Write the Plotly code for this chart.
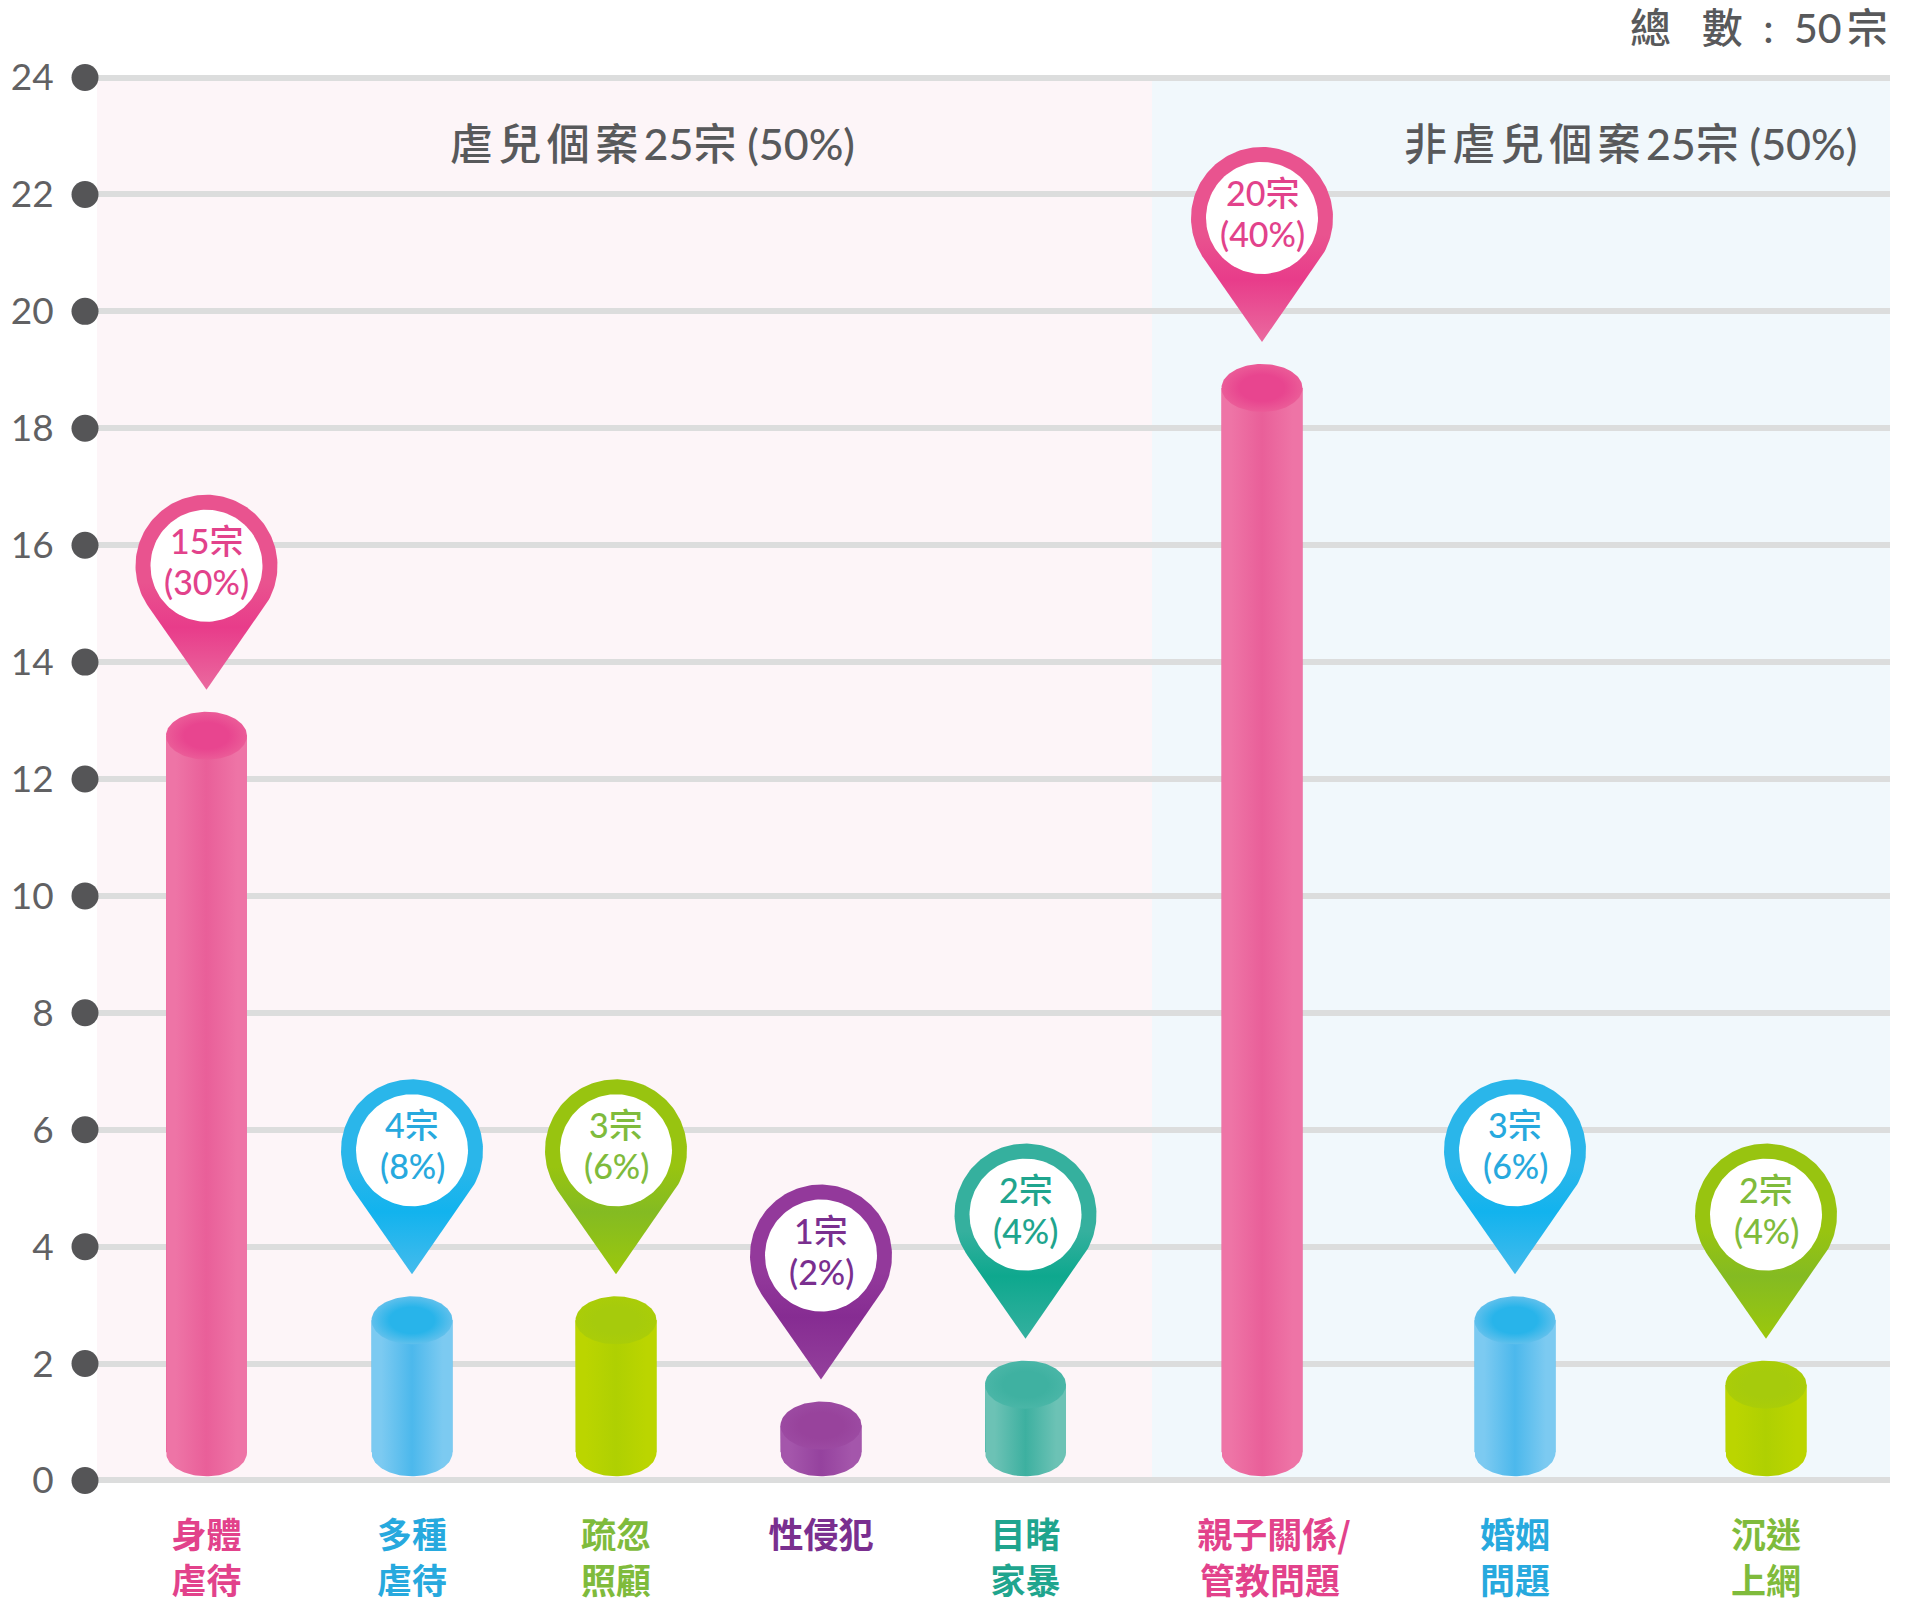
import numpy as np
import plotly.graph_objects as go

# ---- data ----
categories = [["身體", "虐待"], ["多種", "虐待"], ["疏忽", "照顧"], ["性侵犯", ""], ["目睹", "家暴"],
              ["親子關係/", "管教問題"], ["婚姻", "問題"], ["沉迷", "上網"]]
bar_heights = [13.15, 3.15, 3.15, 1.35, 2.05, 19.1, 3.15, 2.05]
case_counts = [15, 4, 3, 1, 2, 20, 3, 2]
case_pct = [30, 8, 6, 2, 4, 40, 6, 4]
y_ticks = list(range(0, 25, 2))
group_titles = ["虐\u2009兒\u2009個\u2009案\u200925宗 (50%)", "非\u2009虐\u2009兒\u2009個\u2009案\u200925宗 (50%)"]
total_label = "總\u2002\u2005數\u2002:\u200250\u2009宗"

# ---- layout / style ----
W, H = 1905, 1606
PX_PER_UNIT = 58.45
X0, X1 = 97, 1890
PAD = 0.3
TOP = 77.5
x_pos = [206.5, 412, 616, 821, 1025.5, 1262, 1515, 1766]
tick_pos = [206.5, 412, 616, 821, 1025.5, 1274, 1515, 1766]
SPLIT = 1152
BAR_W = 81
CAP = 24 / PX_PER_UNIT
FOOT = 0.07

PINK = dict(pin="#e9538f", deep="#e83c8a", tip="#ea6a9f", edge="#ee74a6", mid="#e95f99", cap="#e8458f", capedge="#eb5c98", label="#e2428b")
BLUE = dict(pin="#2ab6ea", deep="#12b3ee", tip="#45bbec", edge="#7ccaf1", mid="#4cb8ec", cap="#28b4ea", capedge="#60c0ec", label="#27a9de")
LIME = dict(pin="#98c410", deep="#84bb22", tip="#9cc80c", edge="#bbd500", mid="#afd002", cap="#a6cb0c", capedge="#aacd08", label="#7fbb3c")
PURP = dict(pin="#93399b", deep="#862c92", tip="#94409c", edge="#a456ab", mid="#95429e", cap="#98439c", capedge="#9c4aa2", label="#7a2f8f")
TEAL = dict(pin="#35b09e", deep="#0ea88e", tip="#34b09f", edge="#6cc2b5", mid="#3db0a0", cap="#3fb1a1", capedge="#4ab6a7", label="#1fa58e")
styles = [PINK, BLUE, LIME, PURP, TEAL, PINK, BLUE, LIME]

FONT = "Lato, 'Noto Sans CJK TC', sans-serif"
CJK = "'Noto Sans CJK TC', sans-serif"
GREY = "#58595b"

fig = go.Figure()

# cylinder bodies
bases = [CAP + FOOT] * len(bar_heights)
fig.add_trace(go.Bar(x=x_pos, y=[h - CAP - b for h, b in zip(bar_heights, bases)], base=bases, width=BAR_W,
                     marker=dict(color=[s["mid"] for s in styles], line_width=0),
                     hoverinfo="skip", showlegend=False))

t = np.linspace(0, 2 * np.pi, 121)
for x, h, b, s in zip(x_pos, bar_heights, bases, styles):
    top_c = h - CAP
    r = BAR_W / 2
    a = np.linspace(np.pi, 2 * np.pi, 61)
    bx = np.r_[x - r, x + r * np.cos(a), x + r]
    by = np.r_[top_c, b + CAP * np.sin(a), top_c]
    grad = dict(type="horizontal",
                colorscale=[[0, s["edge"]], [0.12, s["edge"]], [0.5, s["mid"]], [0.88, s["edge"]], [1, s["edge"]]])
    fig.add_trace(go.Scatter(x=bx, y=by, mode="lines", line_width=0, fill="toself", fillgradient=grad,
                             hoverinfo="skip", showlegend=False))
    cx = x + r * np.cos(t)
    cy = top_c + CAP * np.sin(t)
    fig.add_trace(go.Scatter(x=cx, y=cy, mode="lines", line_width=0, fill="toself",
                             fillgradient=dict(type="radial", colorscale=[[0, s["cap"]], [0.55, s["cap"]], [1, s["capedge"]]]),
                             hoverinfo="skip", showlegend=False))

# pins
TIP_GAP, TIP_D, R_OUT, R_IN = 22, 124, 71, 56
ang = np.arccos(R_OUT / TIP_D)
pin_centers = []
for x, h, s in zip(x_pos, bar_heights, styles):
    tip = h + TIP_GAP / PX_PER_UNIT
    cen = tip + TIP_D / PX_PER_UNIT
    pin_centers.append(cen)
    a = np.linspace(-np.pi / 2 + ang, 3 * np.pi / 2 - ang, 120)
    px = np.r_[x, x + R_OUT * np.cos(a), x]
    py = np.r_[tip, cen + R_OUT * np.sin(a) / PX_PER_UNIT, tip]
    fig.add_trace(go.Scatter(x=px, y=py, mode="lines", line_width=0, fill="toself",
                             fillgradient=dict(type="vertical",
                                               colorscale=[[0, s["tip"]], [0.32, s["deep"]], [0.55, s["pin"]], [1, s["pin"]]]),
                             hoverinfo="skip", showlegend=False))
    fig.add_trace(go.Scatter(x=x + R_IN * np.cos(t), y=cen + R_IN * np.sin(t) / PX_PER_UNIT,
                             mode="lines", line_width=0, fill="toself", fillcolor="#ffffff",
                             hoverinfo="skip", showlegend=False))

# pin labels
annotations = []
for x, c, n, p, s in zip(x_pos, pin_centers, case_counts, case_pct, styles):
    f = dict(family=FONT, size=34, color=s["label"], weight=500)
    annotations.append(dict(x=x, y=c, xref="x", yref="y", yshift=25.5, showarrow=False, text=f"{n}宗", font=f))
    annotations.append(dict(x=x, y=c, xref="x", yref="y", yshift=-15.5, showarrow=False, text=f"({p}%)", font=f))
# heading texts
hf = dict(family=FONT, size=43, color=GREY, weight=500)
annotations.append(dict(x=652, y=(1480 - 143) / PX_PER_UNIT, xref="x", yref="y", showarrow=False, text=group_titles[0], font=hf))
annotations.append(dict(x=1630, y=(1480 - 143) / PX_PER_UNIT, xref="x", yref="y", showarrow=False, text=group_titles[1], font=hf))
plot_bottom = TOP + 24 * PX_PER_UNIT + PAD * PX_PER_UNIT
plot_top = TOP - PAD * PX_PER_UNIT
annotations.append(dict(x=1, xref="paper", xanchor="right", yanchor="middle",
                        y=(plot_bottom - 27) / (plot_bottom - plot_top), yref="paper",
                        showarrow=False, text=total_label,
                        font=dict(family=FONT, size=41, color=GREY, weight=500)))

def tick_text(lines, color):
    parts = [l for l in lines if l]
    if parts == ["親子關係/", "管教問題"]:
        parts[1] += "\u00a0"
    return "<br>".join(f'<span style="color:{color}">{l}</span>' for l in parts)

# grey tick dots in front of each gridline start
dot_x = (85 - X0) / (X1 - X0)
dot_rx = 13.5 / (X1 - X0)
dot_ry = 13.5 / PX_PER_UNIT
shapes = [
    dict(type="rect", layer="below", xref="x", yref="y", x0=X0, x1=SPLIT, y0=0, y1=24, fillcolor="#fdf5f8", line_width=0),
    dict(type="rect", layer="below", xref="x", yref="y", x0=SPLIT, x1=X1, y0=0, y1=24, fillcolor="#f1f8fc", line_width=0),
]
for v in y_ticks:
    shapes.append(dict(type="circle", xref="paper", yref="y", x0=dot_x - dot_rx, x1=dot_x + dot_rx,
                       y0=v - dot_ry, y1=v + dot_ry, fillcolor="#555557", line_width=0, layer="above"))

fig.update_layout(
    width=W, height=H,
    margin=dict(l=X0, r=W - X1, t=plot_top, b=H - plot_bottom, pad=0),
    paper_bgcolor="#ffffff", plot_bgcolor="#ffffff",
    showlegend=False, barmode="overlay",
    annotations=annotations,
    shapes=shapes,
    xaxis=dict(range=[X0, X1], automargin=False, showgrid=False, zeroline=False, showline=False,
               tickmode="array", tickvals=tick_pos,
               ticktext=[tick_text(c, s["label"]) for c, s in zip(categories, styles)],
               ticks="outside", ticklen=7, tickwidth=0, tickcolor="rgba(0,0,0,0)",
               tickfont=dict(family=CJK, size=35, weight=700)),
    yaxis=dict(range=[-PAD, 24 + PAD], automargin=False, showgrid=True, gridcolor="#dcdddd", gridwidth=5.5, zeroline=False, showline=False,
               tickmode="array", tickvals=y_ticks, ticktext=[str(v) for v in y_ticks],
               ticks="outside", ticklen=35, tickwidth=0, tickcolor="rgba(0,0,0,0)",
               tickfont=dict(family="Lato, sans-serif", size=37, color="#616163", weight=400)),
)

fig.write_html("out.html", config=dict(displayModeBar=False),
               post_script="document.body.style.margin='0';document.documentElement.style.overflow='hidden';")
